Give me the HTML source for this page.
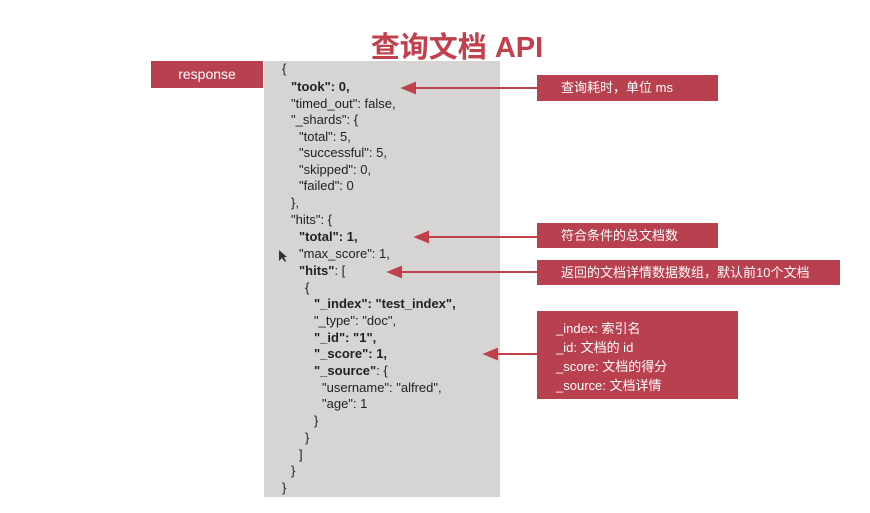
<!DOCTYPE html>
<html><head><meta charset="utf-8"><style>
body{margin:0;width:870px;height:513px;background:#fff;position:relative;overflow:hidden;font-family:"Liberation Sans","Noto Sans CJK SC",sans-serif}
.t{position:absolute;left:0;width:914px;text-align:center;top:24px;font-size:29px;font-weight:bold;color:#c0404c}
.panel{position:absolute;left:264px;top:61px;width:236px;height:436px;background:#d6d5d4}
.l{position:absolute;font-size:13px;color:#222;white-space:pre;line-height:16px}
.b{position:absolute;background:#b9404e;color:#fff;font-size:13px}
</style></head><body>
<div class="t">查询文档 API</div>
<div class="b" style="left:151px;top:61px;width:112px;height:27px;line-height:27px;text-align:center;font-size:14px">response</div>
<div class="panel"></div>
<div id="code"></div>
<div class="b" style="left:537px;top:75px;width:181px;height:26px;line-height:26px;padding-left:0"><span style="margin-left:24px">查询耗时，单位 ms</span></div>
<div class="b" style="left:537px;top:223px;width:181px;height:25px;line-height:25px"><span style="margin-left:24px">符合条件的总文档数</span></div>
<div class="b" style="left:537px;top:260px;width:303px;height:25px;line-height:25px"><span style="margin-left:24px">返回的文档详情数据数组，默认前10个文档</span></div>
<div class="b" style="left:537px;top:311px;width:201px;height:88px;line-height:19px;padding-top:8px;box-sizing:border-box"><div style="margin-left:19px">_index: 索引名<br>_id: 文档的 id<br>_score: 文档的得分<br>_source: 文档详情</div></div>
<svg width="870" height="513" style="position:absolute;left:0;top:0">
<g stroke="#c0404c" stroke-width="2" fill="#c0404c">
<line x1="537" y1="88" x2="412" y2="88"/><polygon points="403,88 415,83 415,93"/>
<line x1="537" y1="237" x2="425" y2="237"/><polygon points="416,237 428,232 428,242"/>
<line x1="537" y1="272" x2="398" y2="272"/><polygon points="389,272 401,267 401,277"/>
<line x1="537" y1="354" x2="494" y2="354"/><polygon points="485,354 497,349 497,359"/>
</g>
<polygon points="279,250 279,261 282,258 285,262 286,261 284,257 287,257" fill="#333"/>
</svg>
<div class="l" style="left:282px;top:61px">{</div>
<div class="l" style="left:291px;top:79px"><b>"took": 0,</b></div>
<div class="l" style="left:291px;top:96px">"timed_out": false,</div>
<div class="l" style="left:291px;top:112px">"_shards": {</div>
<div class="l" style="left:299px;top:129px">"total": 5,</div>
<div class="l" style="left:299px;top:145px">"successful": 5,</div>
<div class="l" style="left:299px;top:162px">"skipped": 0,</div>
<div class="l" style="left:299px;top:178px">"failed": 0</div>
<div class="l" style="left:291px;top:195px">},</div>
<div class="l" style="left:291px;top:212px">"hits": {</div>
<div class="l" style="left:299px;top:229px"><b>"total": 1,</b></div>
<div class="l" style="left:299px;top:246px">"max_score": 1,</div>
<div class="l" style="left:299px;top:263px"><b>"hits"</b>: [</div>
<div class="l" style="left:305px;top:280px">{</div>
<div class="l" style="left:314px;top:296px"><b>"_index": "test_index",</b></div>
<div class="l" style="left:314px;top:313px">"_type": "doc",</div>
<div class="l" style="left:314px;top:330px"><b>"_id": "1",</b></div>
<div class="l" style="left:314px;top:346px"><b>"_score": 1,</b></div>
<div class="l" style="left:314px;top:363px"><b>"_source"</b>: {</div>
<div class="l" style="left:322px;top:380px">"username": "alfred",</div>
<div class="l" style="left:322px;top:396px">"age": 1</div>
<div class="l" style="left:314px;top:413px">}</div>
<div class="l" style="left:305px;top:430px">}</div>
<div class="l" style="left:299px;top:447px">]</div>
<div class="l" style="left:291px;top:463px">}</div>
<div class="l" style="left:282px;top:480px">}</div>
</body></html>
